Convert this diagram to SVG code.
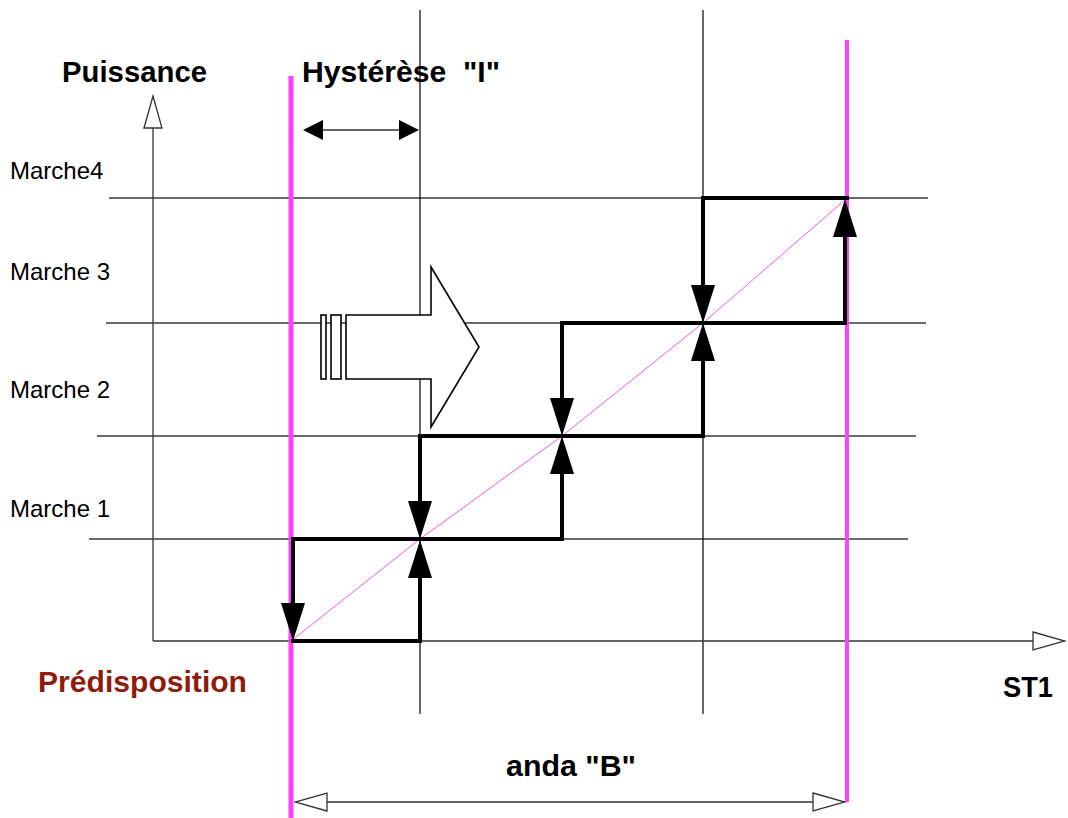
<svg xmlns="http://www.w3.org/2000/svg" width="1068" height="818" viewBox="0 0 1068 818">
<style>
.grid{stroke:#3a3a3a;stroke-width:1.3;fill:none}
.vline{stroke:#000;stroke-width:1.2;fill:none}
.axis{stroke:#333;stroke-width:1.3;fill:none}
.mag{stroke:#FF40FF;fill:none}
.diag{stroke:#EA5AEA;stroke-width:1;fill:none}
.step{stroke:#000;stroke-width:4;fill:none;stroke-linecap:square;stroke-linejoin:miter}
.fall{stroke:#000;stroke-width:4;fill:none}
.shape{stroke:#000;stroke-width:1.6;fill:#fff}
.lbl{font-family:"Liberation Sans",Arial,sans-serif;font-size:24px;fill:#000}
.bold{font-family:"Liberation Sans",Arial,sans-serif;font-weight:bold;font-size:30px;fill:#000}
</style>
<defs>
<marker id="solid" viewBox="0 0 38 24" markerWidth="38" markerHeight="24" refX="0" refY="12" orient="auto" markerUnits="userSpaceOnUse">
<path d="M0,0 L38,12 L0,24 z" fill="#000"/>
</marker>
<marker id="small" viewBox="0 0 20 20" markerWidth="20" markerHeight="20" refX="0" refY="10" orient="auto-start-reverse" markerUnits="userSpaceOnUse">
<path d="M0,0 L20,10 L0,20 z" fill="#000"/>
</marker>
<marker id="open" viewBox="-2 -2 36 22" markerWidth="36" markerHeight="22" refX="0" refY="9" orient="auto-start-reverse" markerUnits="userSpaceOnUse">
<path d="M0,0 L32,9 L0,18 z" fill="#fff" stroke="#333" stroke-width="1.3"/>
</marker>
</defs>
<rect width="1068" height="818" fill="#fff"/>

<g id="grid">
<line class="grid" x1="109" y1="198" x2="928" y2="198"/>
<line class="grid" x1="106" y1="323" x2="926" y2="323"/>
<line class="grid" x1="97" y1="436" x2="916" y2="436"/>
<line class="grid" x1="89" y1="539" x2="908" y2="539"/>
<line class="vline" x1="420" y1="10" x2="420" y2="714"/>
<line class="vline" x1="703" y1="10" x2="703" y2="714"/>
</g>

<g id="labels">
<text class="lbl" x="10" y="179">Marche4</text>
<text class="lbl" x="10" y="280">Marche 3</text>
<text class="lbl" x="10" y="398">Marche 2</text>
<text class="lbl" x="10" y="517">Marche 1</text>
<text class="bold" x="62" y="82" textLength="145" lengthAdjust="spacingAndGlyphs">Puissance</text>
<text class="bold" x="302" y="82" textLength="198" lengthAdjust="spacingAndGlyphs" xml:space="preserve">Hystérèse  "I"</text>
<text class="bold" x="38" y="692" textLength="209" lengthAdjust="spacingAndGlyphs" style="fill:#8E1B0C">Prédisposition</text>
<text class="bold" x="1003" y="697" textLength="50" lengthAdjust="spacingAndGlyphs">ST1</text>
<text class="bold" x="506" y="776" textLength="130" lengthAdjust="spacingAndGlyphs">anda "B"</text>
</g>

<g id="big-arrow">
<rect class="shape" x="321" y="315" width="5" height="64"/>
<rect class="shape" x="331" y="315" width="10" height="64"/>
<polygon class="shape" points="346,315 431,315 431,267 479,347 431,427 431,379 346,379"/>
</g>

<g id="connectors">
<line class="axis" x1="153" y1="641" x2="153" y2="128" marker-end="url(#open)"/>
<line class="axis" x1="153" y1="641" x2="1033" y2="641" marker-end="url(#open)"/>
<line class="mag" x1="291" y1="76" x2="291" y2="818" stroke-width="5"/>
<line class="mag" x1="847" y1="40" x2="847" y2="802" stroke-width="4"/>
<polyline class="diag" points="291,641 420,539 562,436 703,323 846,199"/>
<line class="axis" x1="323" y1="130" x2="399" y2="130" stroke="#000" marker-start="url(#small)" marker-end="url(#small)"/>
<line class="axis" x1="327" y1="802" x2="813" y2="802" marker-start="url(#open)" marker-end="url(#open)"/>
<path class="step" d="M293,641 H420 V578" marker-end="url(#solid)"/>
<path class="step" d="M293,539 H562 V474" marker-end="url(#solid)"/>
<path class="step" d="M420,436 H703 V361" marker-end="url(#solid)"/>
<path class="step" d="M562,323 H845 V237" marker-end="url(#solid)"/>
<path class="step" d="M703,198 H847"/>
<path class="fall" d="M703,198 V285" marker-end="url(#solid)"/>
<path class="fall" d="M562,323 V398" marker-end="url(#solid)"/>
<path class="fall" d="M420,436 V501" marker-end="url(#solid)"/>
<path class="fall" d="M293,539 V603" marker-end="url(#solid)"/>
</g>
</svg>
